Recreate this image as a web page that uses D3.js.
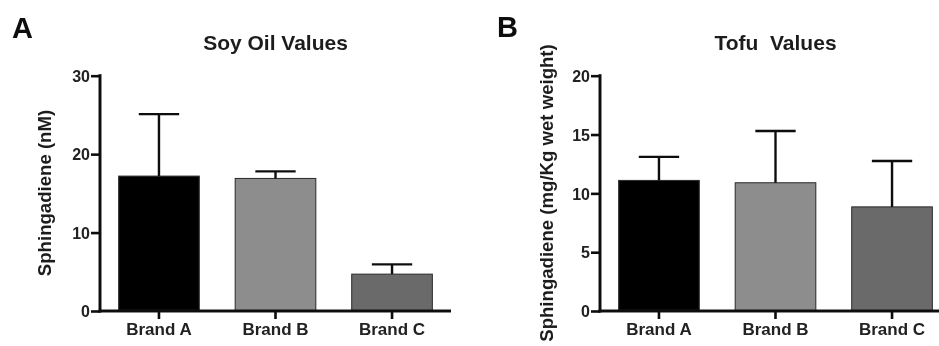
<!DOCTYPE html>
<html>
<head>
<meta charset="utf-8">
<script src="https://cdn.jsdelivr.net/npm/d3@7"></script>
<style>
  html, body { margin: 0; padding: 0; background: #fff; }
  svg { display: block; }
  text { font-family: "Liberation Sans", Arial, Helvetica, sans-serif; font-weight: bold; fill: #1e1e1e; }
</style>
</head>
<body>
<script>
// Sphingadiene content of three brands, mean and standard deviation
const categories = ["Brand A", "Brand B", "Brand C"];
const soyMeans = [17.2, 16.9, 4.7];
const soySD = [7.9, 0.9, 1.25];
const tofuMeans = [11.1, 10.9, 8.85];
const tofuSD = [2.0, 4.4, 3.9];
const soyTicks = [0, 10, 20, 30];
const tofuTicks = [0, 5, 10, 15, 20];
const barFills = ["#060606", "#8d8d8d", "#6a6a6a"];

const W = 939, H = 346;
const svg = d3.select("body").append("svg").attr("width", W).attr("height", H);

const defs = svg.append("defs");
defs.append("filter").attr("id", "soft")
  .append("feGaussianBlur").attr("stdDeviation", 0.45);

const root = svg.append("g").attr("filter", "url(#soft)");

const panels = [
  { letter: "A", letterX: 12, letterY: 38, title: "Soy Oil Values", x0: 100,
    yLabel: "Sphingadiene (nM)", yLabelX: 51,
    means: soyMeans, sd: soySD, ticks: soyTicks, max: 30 },
  { letter: "B", letterX: 497, letterY: 37, title: "Tofu  Values", x0: 600,
    yLabel: "Sphingadiene (mg/Kg wet weight)", yLabelX: 553,
    means: tofuMeans, sd: tofuSD, ticks: tofuTicks, max: 20 }
];

const yBottom = 311, yTop = 75.7, plotW = 351;

panels.forEach(p => {
  const g = root.append("g");

  const x = d3.scaleBand().domain(categories)
    .range([p.x0, p.x0 + plotW])
    .paddingInner(0.308).paddingOuter(0.16);
  const y = d3.scaleLinear().domain([0, p.max]).range([yBottom, yTop]);

  // panel letter and title
  g.append("text").attr("x", p.letterX).attr("y", p.letterY)
    .style("font-size", "29px").style("fill", "#111").text(p.letter);
  g.append("text").attr("x", p.x0 + plotW / 2).attr("y", 50)
    .attr("text-anchor", "middle").style("font-size", "21px")
    .style("white-space", "pre").attr("xml:space", "preserve")
    .text(p.title);

  // y axis label
  g.append("text")
    .attr("transform", `translate(${p.yLabelX},193) rotate(-90)`)
    .attr("text-anchor", "middle").style("font-size", "18.6px")
    .text(p.yLabel);

  // bars
  g.selectAll("rect.bar").data(categories).join("rect")
    .attr("class", "bar")
    .attr("x", d => x(d))
    .attr("width", x.bandwidth())
    .attr("y", (d, i) => y(p.means[i]))
    .attr("height", (d, i) => yBottom - y(p.means[i]))
    .attr("fill", (d, i) => barFills[i])
    .attr("stroke", "#2a2a2a").attr("stroke-width", 1);

  // upper error bars
  const capHalf = x.bandwidth() / 4;
  const eb = g.selectAll("g.err").data(categories).join("g").attr("class", "err");
  eb.append("line")
    .attr("x1", d => x(d) + x.bandwidth() / 2).attr("x2", d => x(d) + x.bandwidth() / 2)
    .attr("y1", (d, i) => y(p.means[i])).attr("y2", (d, i) => y(p.means[i] + p.sd[i]))
    .attr("stroke", "#111").attr("stroke-width", 2.4);
  eb.append("line")
    .attr("x1", d => x(d) + x.bandwidth() / 2 - capHalf).attr("x2", d => x(d) + x.bandwidth() / 2 + capHalf)
    .attr("y1", (d, i) => y(p.means[i] + p.sd[i])).attr("y2", (d, i) => y(p.means[i] + p.sd[i]))
    .attr("stroke", "#111").attr("stroke-width", 2.4);

  // y axis
  const ya = g.append("g").attr("transform", `translate(${p.x0},0)`)
    .call(d3.axisLeft(y).tickValues(p.ticks).tickFormat(d3.format("d"))
      .tickSize(9).tickSizeOuter(0).tickPadding(1));
  ya.select(".domain").attr("stroke", "#111").attr("stroke-width", 3)
    .attr("d", `M0,${yTop - 1.5}V${yBottom + 1.5}`);
  ya.selectAll(".tick line").attr("stroke", "#111").attr("stroke-width", 2.6);
  ya.selectAll(".tick text").style("font-size", "16px").style("font-family", null)
    .attr("dy", "0.36em").style("fill", "#222");

  // x axis
  const xa = g.append("g").attr("transform", `translate(0,${yBottom})`)
    .call(d3.axisBottom(x).tickSize(8).tickSizeOuter(0).tickPadding(4));
  xa.select(".domain").attr("stroke", "#111").attr("stroke-width", 3)
    .attr("d", `M${p.x0 - 1.5},0H${p.x0 + plotW}`);
  xa.selectAll(".tick line").attr("stroke", "#111").attr("stroke-width", 2.6);
  xa.selectAll(".tick text").style("font-size", "17px").style("font-family", null)
    .style("fill", "#222");
});
</script>
</body>
</html>
